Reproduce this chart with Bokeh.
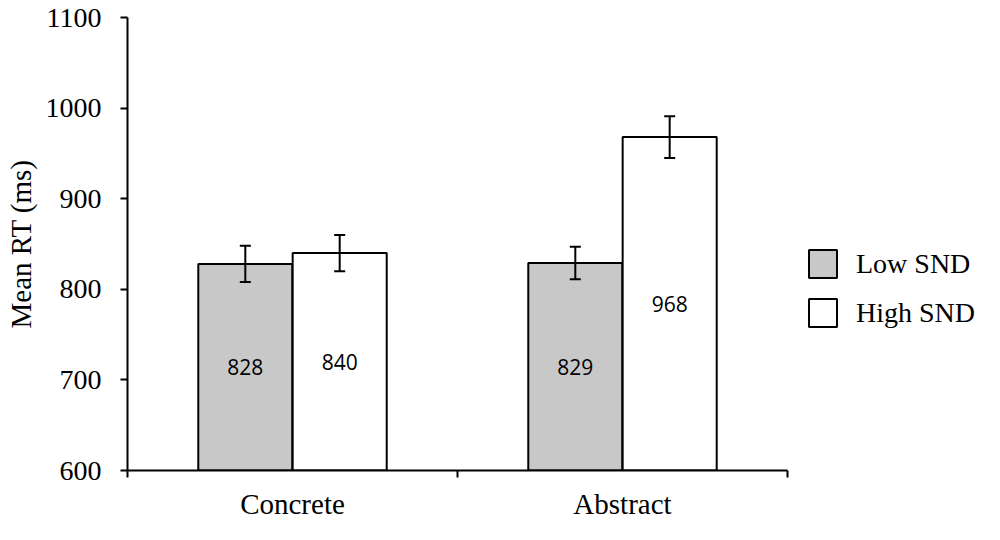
from bokeh.plotting import figure
from bokeh.models import (ColumnDataSource, FixedTicker, Whisker, TeeHead,
                          Legend, LegendItem, Range1d)
from bokeh.core.properties import value
from bokeh.embed import file_html
from bokeh.resources import INLINE

# ---- data ----
categories = ["Concrete", "Abstract"]
series = ["Low SND", "High SND"]
low_snd = [828, 829]
high_snd = [840, 968]
low_err = [20, 18]
high_err = [20, 23]
y_ticks = [600, 700, 800, 900, 1000, 1100]

# ---- layout / style ----
Y0, Y1 = 600, 1100
BAR_W = 0.285
OFF = 0.143
SERIF = "Liberation Serif"

p = figure(width=984, height=524, output_backend="svg", toolbar_location=None,
           x_range=Range1d(0, 2.597), y_range=Range1d(Y0, Y1),
           min_border_left=127, min_border_right=0,
           min_border_top=17, min_border_bottom=54)
p.outline_line_color = None
p.xgrid.visible = False
p.ygrid.visible = False

centers = [i + 0.5 for i in range(len(categories))]
colors = {"Low SND": "#c8c8c8", "High SND": "#ffffff"}
vals = {"Low SND": low_snd, "High SND": high_snd}
errs = {"Low SND": low_err, "High SND": high_err}
offs = {"Low SND": -OFF, "High SND": OFF}

renderers = {}
for s in series:
    xs = [c + offs[s] for c in centers]
    v = vals[s]
    e = errs[s]
    src = ColumnDataSource(dict(
        x=xs, top=v,
        upper=[a + b for a, b in zip(v, e)],
        lower=[a - b for a, b in zip(v, e)],
        mid=[(Y0 + a) / 2 for a in v],
        txt=[str(a) for a in v],
    ))
    r = p.vbar(x="x", top="top", bottom=Y0, width=BAR_W, source=src,
               fill_color=colors[s], line_color="black", line_width=2)
    renderers[s] = r
    w = Whisker(base="x", upper="upper", lower="lower", source=src,
                level="overlay",
                line_color="black", line_width=2,
                upper_head=TeeHead(size=11, line_width=2, line_color="black"),
                lower_head=TeeHead(size=11, line_width=2, line_color="black"))
    p.add_layout(w)
    p.text(x="x", y="mid", text="txt", source=src, text_align="center",
           text_baseline="middle", text_font=value("Open Sans"),
           text_font_size="21px", text_color="black")

# ---- axes ----
xa = p.xaxis[0]
xa.bounds = (0, 2)
xa.ticker = FixedTicker(ticks=centers, minor_ticks=[0, 1, 2])
xa.major_label_overrides = {c: n for c, n in zip(centers, categories)}
xa.major_tick_out = 0
xa.major_tick_in = 0
xa.minor_tick_out = 7
xa.minor_tick_in = 0
xa.minor_tick_line_color = "black"
xa.minor_tick_line_width = 2
xa.axis_line_width = 2
xa.axis_line_color = "black"
xa.major_label_text_font = SERIF
xa.major_label_text_font_size = "29px"
xa.major_label_text_color = "black"
xa.major_label_standoff = 10

ya = p.yaxis[0]
ya.ticker = FixedTicker(ticks=y_ticks, minor_ticks=[])
ya.major_tick_out = 7
ya.major_tick_in = 0
ya.major_tick_line_width = 2
ya.major_tick_line_color = "black"
ya.axis_line_width = 2
ya.axis_line_color = "black"
ya.major_label_text_font = SERIF
ya.major_label_text_font_size = "28px"
ya.major_label_text_color = "black"
ya.major_label_standoff = 19
ya.axis_label = "Mean RT (ms)"
ya.axis_label_text_font = SERIF
ya.axis_label_text_font_size = "29px"
ya.axis_label_text_font_style = "normal"
ya.axis_label_text_color = "black"
ya.axis_label_standoff = 6

# ---- legend ----
legend = Legend(items=[LegendItem(label=s, renderers=[renderers[s]]) for s in series],
                location=(678, 140), orientation="vertical",
                glyph_width=35, glyph_height=35, label_height=35,
                label_standoff=16, spacing=14, padding=0, margin=0,
                border_line_color=None, background_fill_alpha=0,
                label_text_font=SERIF, label_text_font_size="28px",
                label_text_color="black")
p.add_layout(legend)

open("out.html", "w").write(file_html(p, INLINE))
